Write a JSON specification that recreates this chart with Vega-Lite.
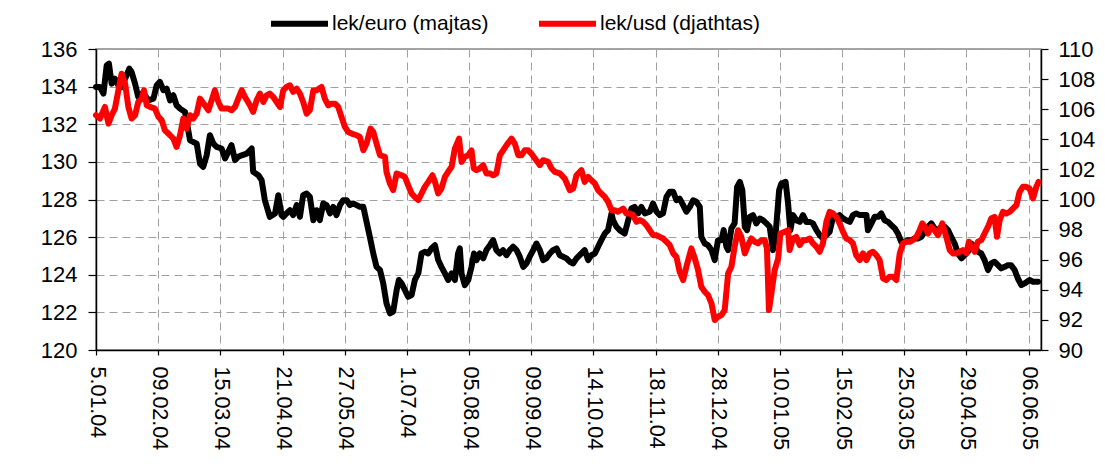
{
 "$schema": "https://vega.github.io/schema/vega-lite/v6.json",
 "width": 945,
 "height": 301,
 "autosize": {"type": "none"},
 "padding": {"left": 96, "top": 49, "right": 64, "bottom": 122},
 "background": "white",
 "config": {
  "font": "Liberation Sans",
  "view": {"stroke": "#888888", "strokeWidth": 1.5},
  "axis": {"labelColor": "#000000", "domainColor": "#000000", "domainWidth": 1.5, "tickColor": "#000000", "tickWidth": 1.2, "gridColor": "#a0a0a0", "gridDash": [8, 5], "gridWidth": 1, "labelOverlap": false, "labelFlush": false, "labelBound": false, "title": null}
 },
 "data": {"values": [
{"s":"e","t":0,"v":133.98},{"s":"e","t":1.6,"v":133.98},{"s":"e","t":3.0,"v":133.63},{"s":"e","t":4.3,"v":135.13},{"s":"e","t":5.2,"v":135.22},{"s":"e","t":6.3,"v":134.16},{"s":"e","t":7.6,"v":134.42},{"s":"e","t":9.0,"v":134.07},{"s":"e","t":10.3,"v":133.98},{"s":"e","t":11.7,"v":134.42},{"s":"e","t":13.4,"v":134.96},{"s":"e","t":14.3,"v":134.78},{"s":"e","t":15.7,"v":134.16},{"s":"e","t":17.0,"v":133.45},{"s":"e","t":18.4,"v":133.63},{"s":"e","t":19.7,"v":133.54},{"s":"e","t":21.0,"v":133.27},{"s":"e","t":23.1,"v":133.36},{"s":"e","t":24.4,"v":134.07},{"s":"e","t":25.7,"v":134.25},{"s":"e","t":27.1,"v":133.81},{"s":"e","t":28.4,"v":133.89},{"s":"e","t":29.8,"v":133.27},{"s":"e","t":31.1,"v":133.54},{"s":"e","t":32.4,"v":133.01},{"s":"e","t":33.8,"v":132.83},{"s":"e","t":35.8,"v":132.65},{"s":"e","t":37.8,"v":131.15},{"s":"e","t":39.1,"v":131.06},{"s":"e","t":40.5,"v":130.97},{"s":"e","t":41.8,"v":129.91},{"s":"e","t":43.1,"v":129.73},{"s":"e","t":44.5,"v":130.35},{"s":"e","t":45.8,"v":131.42},{"s":"e","t":47.2,"v":130.97},{"s":"e","t":48.5,"v":130.80},{"s":"e","t":50.5,"v":130.71},{"s":"e","t":51.9,"v":130.18},{"s":"e","t":53.2,"v":130.53},{"s":"e","t":54.5,"v":130.89},{"s":"e","t":55.9,"v":130.09},{"s":"e","t":57.2,"v":130.27},{"s":"e","t":58.6,"v":130.35},{"s":"e","t":60.6,"v":130.44},{"s":"e","t":62.6,"v":130.71},{"s":"e","t":63.2,"v":129.47},{"s":"e","t":65.3,"v":129.29},{"s":"e","t":66.6,"v":129.03},{"s":"e","t":67.9,"v":127.96},{"s":"e","t":69.9,"v":127.08},{"s":"e","t":72.0,"v":127.26},{"s":"e","t":73.3,"v":128.23},{"s":"e","t":74.6,"v":127.17},{"s":"e","t":75.3,"v":127.08},{"s":"e","t":76.6,"v":127.26},{"s":"e","t":78.0,"v":127.43},{"s":"e","t":79.3,"v":127.17},{"s":"e","t":80.7,"v":127.70},{"s":"e","t":82.0,"v":127.08},{"s":"e","t":83.3,"v":128.23},{"s":"e","t":84.7,"v":128.32},{"s":"e","t":86.0,"v":128.14},{"s":"e","t":87.4,"v":126.90},{"s":"e","t":88.7,"v":127.43},{"s":"e","t":90.0,"v":126.90},{"s":"e","t":91.4,"v":127.79},{"s":"e","t":92.7,"v":127.70},{"s":"e","t":94.1,"v":127.26},{"s":"e","t":95.4,"v":127.61},{"s":"e","t":96.7,"v":127.17},{"s":"e","t":98.1,"v":127.70},{"s":"e","t":99.4,"v":127.96},{"s":"e","t":100.8,"v":127.96},{"s":"e","t":102.1,"v":127.70},{"s":"e","t":103.4,"v":127.79},{"s":"e","t":104.8,"v":127.70},{"s":"e","t":106.1,"v":127.61},{"s":"e","t":107.5,"v":127.61},{"s":"e","t":108.8,"v":126.81},{"s":"e","t":110.1,"v":126.02},{"s":"e","t":111.5,"v":125.13},{"s":"e","t":112.8,"v":124.42},{"s":"e","t":114.2,"v":124.25},{"s":"e","t":115.5,"v":123.54},{"s":"e","t":116.8,"v":122.48},{"s":"e","t":118.2,"v":121.95},{"s":"e","t":119.5,"v":122.04},{"s":"e","t":120.9,"v":123.19},{"s":"e","t":121.8,"v":123.72},{"s":"e","t":122.9,"v":123.54},{"s":"e","t":124.2,"v":123.19},{"s":"e","t":125.5,"v":122.83},{"s":"e","t":126.9,"v":122.92},{"s":"e","t":128.2,"v":123.72},{"s":"e","t":129.6,"v":124.07},{"s":"e","t":130.9,"v":125.13},{"s":"e","t":132.2,"v":125.22},{"s":"e","t":133.6,"v":125.13},{"s":"e","t":134.9,"v":125.40},{"s":"e","t":136.3,"v":125.57},{"s":"e","t":137.6,"v":124.78},{"s":"e","t":138.9,"v":124.42},{"s":"e","t":140.3,"v":124.07},{"s":"e","t":141.6,"v":123.72},{"s":"e","t":143.0,"v":124.07},{"s":"e","t":144.3,"v":123.72},{"s":"e","t":145.6,"v":125.13},{"s":"e","t":146.3,"v":125.40},{"s":"e","t":147.0,"v":124.07},{"s":"e","t":148.3,"v":123.45},{"s":"e","t":149.7,"v":123.72},{"s":"e","t":151.0,"v":124.42},{"s":"e","t":152.0,"v":125.13},{"s":"e","t":153.0,"v":124.78},{"s":"e","t":154.3,"v":125.13},{"s":"e","t":155.7,"v":124.87},{"s":"e","t":157.0,"v":125.31},{"s":"e","t":158.4,"v":125.57},{"s":"e","t":159.7,"v":125.84},{"s":"e","t":161.0,"v":125.31},{"s":"e","t":162.4,"v":125.13},{"s":"e","t":163.7,"v":125.31},{"s":"e","t":165.1,"v":125.04},{"s":"e","t":166.4,"v":125.31},{"s":"e","t":167.7,"v":125.49},{"s":"e","t":169.1,"v":125.31},{"s":"e","t":170.4,"v":124.96},{"s":"e","t":171.8,"v":124.42},{"s":"e","t":173.1,"v":124.60},{"s":"e","t":174.4,"v":124.96},{"s":"e","t":175.8,"v":125.31},{"s":"e","t":177.1,"v":125.66},{"s":"e","t":178.5,"v":125.31},{"s":"e","t":179.8,"v":124.78},{"s":"e","t":181.1,"v":124.87},{"s":"e","t":182.5,"v":125.13},{"s":"e","t":183.8,"v":125.31},{"s":"e","t":185.2,"v":125.40},{"s":"e","t":186.5,"v":125.04},{"s":"e","t":187.8,"v":124.96},{"s":"e","t":189.2,"v":124.87},{"s":"e","t":190.5,"v":124.69},{"s":"e","t":191.9,"v":124.60},{"s":"e","t":193.2,"v":124.87},{"s":"e","t":194.5,"v":125.04},{"s":"e","t":196.5,"v":125.31},{"s":"e","t":197.9,"v":124.78},{"s":"e","t":199.2,"v":125.04},{"s":"e","t":200.6,"v":125.13},{"s":"e","t":201.9,"v":125.49},{"s":"e","t":203.2,"v":125.84},{"s":"e","t":204.6,"v":126.19},{"s":"e","t":205.9,"v":126.37},{"s":"e","t":207.3,"v":127.26},{"s":"e","t":207.9,"v":126.90},{"s":"e","t":209.3,"v":126.55},{"s":"e","t":210.6,"v":126.37},{"s":"e","t":212.6,"v":126.19},{"s":"e","t":214.0,"v":126.90},{"s":"e","t":215.3,"v":127.52},{"s":"e","t":216.6,"v":127.61},{"s":"e","t":218.0,"v":127.26},{"s":"e","t":219.3,"v":127.61},{"s":"e","t":220.7,"v":127.26},{"s":"e","t":222.7,"v":127.35},{"s":"e","t":224.0,"v":127.79},{"s":"e","t":225.4,"v":127.35},{"s":"e","t":226.7,"v":127.17},{"s":"e","t":228.0,"v":127.26},{"s":"e","t":229.4,"v":128.14},{"s":"e","t":230.7,"v":128.41},{"s":"e","t":232.1,"v":128.41},{"s":"e","t":233.4,"v":127.96},{"s":"e","t":234.7,"v":128.05},{"s":"e","t":236.1,"v":127.70},{"s":"e","t":237.4,"v":127.35},{"s":"e","t":238.8,"v":127.61},{"s":"e","t":240.1,"v":127.96},{"s":"e","t":241.4,"v":127.88},{"s":"e","t":242.8,"v":127.61},{"s":"e","t":243.4,"v":126.02},{"s":"e","t":244.8,"v":125.66},{"s":"e","t":246.1,"v":125.57},{"s":"e","t":247.5,"v":125.31},{"s":"e","t":248.8,"v":124.78},{"s":"e","t":250.1,"v":125.84},{"s":"e","t":251.5,"v":125.84},{"s":"e","t":252.4,"v":126.37},{"s":"e","t":253.5,"v":125.49},{"s":"e","t":254.2,"v":125.31},{"s":"e","t":255.5,"v":126.46},{"s":"e","t":256.8,"v":126.73},{"s":"e","t":257.8,"v":128.67},{"s":"e","t":258.9,"v":128.94},{"s":"e","t":259.9,"v":128.50},{"s":"e","t":260.9,"v":126.55},{"s":"e","t":261.8,"v":126.37},{"s":"e","t":262.9,"v":127.08},{"s":"e","t":264.2,"v":127.17},{"s":"e","t":265.5,"v":126.73},{"s":"e","t":266.9,"v":126.99},{"s":"e","t":268.2,"v":126.90},{"s":"e","t":269.6,"v":126.73},{"s":"e","t":270.9,"v":126.55},{"s":"e","t":272.2,"v":125.31},{"s":"e","t":273.3,"v":126.19},{"s":"e","t":274.7,"v":128.50},{"s":"e","t":275.6,"v":128.85},{"s":"e","t":277.3,"v":128.94},{"s":"e","t":278.3,"v":127.79},{"s":"e","t":279.2,"v":126.37},{"s":"e","t":280.3,"v":127.17},{"s":"e","t":281.6,"v":126.90},{"s":"e","t":283.0,"v":126.81},{"s":"e","t":284.3,"v":127.17},{"s":"e","t":285.6,"v":126.81},{"s":"e","t":287.0,"v":126.81},{"s":"e","t":288.3,"v":126.73},{"s":"e","t":289.7,"v":126.37},{"s":"e","t":291.0,"v":126.11},{"s":"e","t":292.3,"v":125.93},{"s":"e","t":293.7,"v":126.11},{"s":"e","t":295.0,"v":126.28},{"s":"e","t":296.4,"v":127.08},{"s":"e","t":297.7,"v":127.08},{"s":"e","t":299.0,"v":127.17},{"s":"e","t":300.4,"v":126.99},{"s":"e","t":301.7,"v":126.90},{"s":"e","t":303.1,"v":126.81},{"s":"e","t":304.4,"v":127.17},{"s":"e","t":305.7,"v":127.26},{"s":"e","t":307.1,"v":127.17},{"s":"e","t":308.4,"v":127.17},{"s":"e","t":309.8,"v":127.17},{"s":"e","t":310.4,"v":126.37},{"s":"e","t":311.8,"v":126.73},{"s":"e","t":313.1,"v":127.08},{"s":"e","t":314.5,"v":127.08},{"s":"e","t":315.8,"v":127.26},{"s":"e","t":317.1,"v":126.90},{"s":"e","t":318.5,"v":126.81},{"s":"e","t":319.8,"v":126.64},{"s":"e","t":321.2,"v":126.46},{"s":"e","t":322.5,"v":126.19},{"s":"e","t":323.8,"v":125.75},{"s":"e","t":325.2,"v":125.75},{"s":"e","t":326.5,"v":125.84},{"s":"e","t":327.9,"v":125.84},{"s":"e","t":329.2,"v":125.93},{"s":"e","t":330.5,"v":125.93},{"s":"e","t":331.9,"v":126.02},{"s":"e","t":333.2,"v":126.28},{"s":"e","t":334.6,"v":126.55},{"s":"e","t":335.9,"v":126.73},{"s":"e","t":337.2,"v":126.46},{"s":"e","t":338.6,"v":126.37},{"s":"e","t":339.9,"v":126.55},{"s":"e","t":341.3,"v":126.55},{"s":"e","t":342.6,"v":126.37},{"s":"e","t":343.9,"v":126.02},{"s":"e","t":345.3,"v":125.66},{"s":"e","t":346.6,"v":125.13},{"s":"e","t":348.0,"v":124.87},{"s":"e","t":349.3,"v":125.04},{"s":"e","t":350.6,"v":125.22},{"s":"e","t":352.0,"v":125.66},{"s":"e","t":353.3,"v":125.49},{"s":"e","t":354.7,"v":125.22},{"s":"e","t":356.0,"v":125.13},{"s":"e","t":357.3,"v":124.78},{"s":"e","t":358.7,"v":124.25},{"s":"e","t":360.0,"v":124.60},{"s":"e","t":361.3,"v":124.69},{"s":"e","t":362.7,"v":124.51},{"s":"e","t":364.0,"v":124.34},{"s":"e","t":365.4,"v":124.42},{"s":"e","t":366.7,"v":124.51},{"s":"e","t":368.0,"v":124.51},{"s":"e","t":369.4,"v":124.25},{"s":"e","t":370.7,"v":123.80},{"s":"e","t":372.1,"v":123.45},{"s":"e","t":373.4,"v":123.54},{"s":"e","t":375.4,"v":123.72},{"s":"e","t":376.8,"v":123.63},{"s":"e","t":378.8,"v":123.63},
{"s":"u","t":0,"v":105.60},{"s":"u","t":1.6,"v":105.38},{"s":"u","t":3.6,"v":106.15},{"s":"u","t":5.0,"v":105.04},{"s":"u","t":6.3,"v":105.60},{"s":"u","t":7.6,"v":106.04},{"s":"u","t":9.0,"v":107.26},{"s":"u","t":10.3,"v":108.36},{"s":"u","t":11.7,"v":107.70},{"s":"u","t":13.0,"v":106.15},{"s":"u","t":14.3,"v":105.38},{"s":"u","t":15.7,"v":105.60},{"s":"u","t":17.0,"v":106.48},{"s":"u","t":18.4,"v":106.70},{"s":"u","t":19.3,"v":107.26},{"s":"u","t":20.4,"v":106.26},{"s":"u","t":21.7,"v":106.15},{"s":"u","t":23.7,"v":106.04},{"s":"u","t":25.1,"v":105.49},{"s":"u","t":26.4,"v":105.27},{"s":"u","t":27.7,"v":104.60},{"s":"u","t":29.8,"v":104.27},{"s":"u","t":31.1,"v":104.05},{"s":"u","t":32.4,"v":103.50},{"s":"u","t":33.8,"v":104.27},{"s":"u","t":35.1,"v":105.38},{"s":"u","t":36.4,"v":104.71},{"s":"u","t":37.8,"v":105.60},{"s":"u","t":39.1,"v":105.38},{"s":"u","t":40.5,"v":105.71},{"s":"u","t":41.8,"v":106.70},{"s":"u","t":43.8,"v":106.26},{"s":"u","t":45.2,"v":105.93},{"s":"u","t":46.5,"v":106.59},{"s":"u","t":47.8,"v":107.26},{"s":"u","t":49.2,"v":106.48},{"s":"u","t":50.5,"v":106.04},{"s":"u","t":51.9,"v":106.04},{"s":"u","t":53.2,"v":106.04},{"s":"u","t":54.5,"v":105.93},{"s":"u","t":55.9,"v":106.15},{"s":"u","t":57.2,"v":106.70},{"s":"u","t":58.6,"v":107.26},{"s":"u","t":59.9,"v":106.81},{"s":"u","t":61.9,"v":106.26},{"s":"u","t":63.2,"v":105.82},{"s":"u","t":64.6,"v":106.59},{"s":"u","t":65.9,"v":107.04},{"s":"u","t":67.3,"v":106.48},{"s":"u","t":68.6,"v":106.92},{"s":"u","t":69.9,"v":107.04},{"s":"u","t":71.3,"v":106.81},{"s":"u","t":72.6,"v":106.48},{"s":"u","t":74.0,"v":106.15},{"s":"u","t":75.3,"v":107.26},{"s":"u","t":76.6,"v":107.48},{"s":"u","t":78.0,"v":107.59},{"s":"u","t":79.3,"v":107.15},{"s":"u","t":80.7,"v":107.37},{"s":"u","t":82.0,"v":107.04},{"s":"u","t":83.3,"v":106.48},{"s":"u","t":84.7,"v":105.71},{"s":"u","t":86.0,"v":105.93},{"s":"u","t":87.4,"v":107.26},{"s":"u","t":88.7,"v":107.26},{"s":"u","t":90.7,"v":107.48},{"s":"u","t":92.0,"v":106.70},{"s":"u","t":93.4,"v":106.26},{"s":"u","t":94.7,"v":106.37},{"s":"u","t":96.1,"v":106.37},{"s":"u","t":97.4,"v":106.15},{"s":"u","t":98.7,"v":105.49},{"s":"u","t":100.1,"v":104.82},{"s":"u","t":101.4,"v":104.49},{"s":"u","t":102.8,"v":104.38},{"s":"u","t":104.8,"v":104.27},{"s":"u","t":106.1,"v":104.16},{"s":"u","t":107.5,"v":103.27},{"s":"u","t":108.8,"v":103.72},{"s":"u","t":110.4,"v":104.71},{"s":"u","t":111.5,"v":104.49},{"s":"u","t":112.8,"v":103.72},{"s":"u","t":114.2,"v":102.94},{"s":"u","t":116.2,"v":102.83},{"s":"u","t":116.8,"v":101.84},{"s":"u","t":118.2,"v":101.06},{"s":"u","t":119.5,"v":100.62},{"s":"u","t":120.9,"v":101.73},{"s":"u","t":122.9,"v":101.61},{"s":"u","t":124.2,"v":101.50},{"s":"u","t":125.5,"v":100.95},{"s":"u","t":126.9,"v":100.40},{"s":"u","t":128.2,"v":100.17},{"s":"u","t":129.6,"v":99.96},{"s":"u","t":130.9,"v":100.40},{"s":"u","t":132.2,"v":100.84},{"s":"u","t":133.6,"v":101.17},{"s":"u","t":135.3,"v":101.61},{"s":"u","t":136.3,"v":101.17},{"s":"u","t":137.6,"v":100.40},{"s":"u","t":138.9,"v":100.73},{"s":"u","t":140.3,"v":101.50},{"s":"u","t":141.6,"v":101.84},{"s":"u","t":143.0,"v":102.17},{"s":"u","t":144.3,"v":103.38},{"s":"u","t":146.0,"v":104.05},{"s":"u","t":147.0,"v":102.50},{"s":"u","t":148.3,"v":102.83},{"s":"u","t":149.7,"v":102.94},{"s":"u","t":151.0,"v":103.27},{"s":"u","t":151.9,"v":102.06},{"s":"u","t":153.0,"v":101.95},{"s":"u","t":154.3,"v":102.06},{"s":"u","t":155.7,"v":102.28},{"s":"u","t":157.0,"v":101.73},{"s":"u","t":158.4,"v":101.73},{"s":"u","t":159.7,"v":101.61},{"s":"u","t":161.0,"v":101.73},{"s":"u","t":162.4,"v":102.94},{"s":"u","t":163.7,"v":103.27},{"s":"u","t":165.1,"v":103.61},{"s":"u","t":167.1,"v":104.05},{"s":"u","t":168.4,"v":103.72},{"s":"u","t":169.8,"v":102.94},{"s":"u","t":171.1,"v":102.94},{"s":"u","t":172.4,"v":103.27},{"s":"u","t":173.8,"v":103.27},{"s":"u","t":175.1,"v":103.05},{"s":"u","t":176.5,"v":102.72},{"s":"u","t":178.5,"v":102.28},{"s":"u","t":179.8,"v":102.61},{"s":"u","t":181.8,"v":102.50},{"s":"u","t":183.2,"v":102.06},{"s":"u","t":184.5,"v":101.84},{"s":"u","t":186.5,"v":101.73},{"s":"u","t":188.5,"v":101.39},{"s":"u","t":190.5,"v":100.62},{"s":"u","t":191.9,"v":100.73},{"s":"u","t":193.2,"v":101.61},{"s":"u","t":195.2,"v":101.95},{"s":"u","t":196.5,"v":101.17},{"s":"u","t":197.9,"v":101.50},{"s":"u","t":199.2,"v":101.28},{"s":"u","t":200.6,"v":101.06},{"s":"u","t":201.9,"v":100.62},{"s":"u","t":203.2,"v":100.40},{"s":"u","t":204.6,"v":100.17},{"s":"u","t":205.9,"v":99.85},{"s":"u","t":207.3,"v":99.29},{"s":"u","t":208.6,"v":99.29},{"s":"u","t":209.9,"v":99.18},{"s":"u","t":212.0,"v":99.40},{"s":"u","t":213.3,"v":99.07},{"s":"u","t":214.6,"v":99.07},{"s":"u","t":216.0,"v":98.96},{"s":"u","t":217.3,"v":98.52},{"s":"u","t":218.7,"v":98.63},{"s":"u","t":220.0,"v":98.52},{"s":"u","t":221.3,"v":98.30},{"s":"u","t":222.7,"v":97.96},{"s":"u","t":224.0,"v":97.63},{"s":"u","t":225.4,"v":97.63},{"s":"u","t":226.7,"v":97.52},{"s":"u","t":228.0,"v":97.41},{"s":"u","t":229.4,"v":97.19},{"s":"u","t":230.7,"v":96.97},{"s":"u","t":232.1,"v":96.42},{"s":"u","t":233.4,"v":96.19},{"s":"u","t":234.7,"v":95.20},{"s":"u","t":236.1,"v":94.65},{"s":"u","t":237.4,"v":95.53},{"s":"u","t":239.4,"v":96.75},{"s":"u","t":240.8,"v":96.08},{"s":"u","t":242.1,"v":95.31},{"s":"u","t":243.4,"v":94.20},{"s":"u","t":244.8,"v":93.87},{"s":"u","t":246.1,"v":93.65},{"s":"u","t":247.5,"v":93.10},{"s":"u","t":248.8,"v":91.99},{"s":"u","t":250.1,"v":92.21},{"s":"u","t":251.5,"v":92.32},{"s":"u","t":252.8,"v":92.65},{"s":"u","t":254.2,"v":95.09},{"s":"u","t":255.5,"v":95.53},{"s":"u","t":256.8,"v":96.86},{"s":"u","t":258.2,"v":97.96},{"s":"u","t":259.5,"v":97.52},{"s":"u","t":260.9,"v":96.42},{"s":"u","t":262.2,"v":96.97},{"s":"u","t":263.5,"v":97.41},{"s":"u","t":264.9,"v":97.19},{"s":"u","t":266.2,"v":97.08},{"s":"u","t":267.6,"v":97.30},{"s":"u","t":268.9,"v":97.30},{"s":"u","t":269.8,"v":96.75},{"s":"u","t":270.6,"v":92.65},{"s":"u","t":271.6,"v":93.76},{"s":"u","t":272.9,"v":95.31},{"s":"u","t":274.3,"v":96.08},{"s":"u","t":275.2,"v":97.74},{"s":"u","t":276.9,"v":97.85},{"s":"u","t":278.3,"v":97.96},{"s":"u","t":278.9,"v":96.64},{"s":"u","t":280.3,"v":97.41},{"s":"u","t":281.6,"v":97.52},{"s":"u","t":283.0,"v":96.97},{"s":"u","t":284.3,"v":97.30},{"s":"u","t":285.6,"v":97.30},{"s":"u","t":287.0,"v":97.41},{"s":"u","t":288.3,"v":97.08},{"s":"u","t":289.7,"v":96.86},{"s":"u","t":291.0,"v":96.53},{"s":"u","t":292.3,"v":97.08},{"s":"u","t":293.7,"v":98.52},{"s":"u","t":295.0,"v":99.18},{"s":"u","t":296.4,"v":99.07},{"s":"u","t":297.7,"v":98.85},{"s":"u","t":299.0,"v":98.41},{"s":"u","t":300.4,"v":97.85},{"s":"u","t":301.7,"v":97.41},{"s":"u","t":303.1,"v":97.30},{"s":"u","t":304.4,"v":97.08},{"s":"u","t":305.7,"v":96.30},{"s":"u","t":307.1,"v":95.97},{"s":"u","t":308.4,"v":96.42},{"s":"u","t":309.8,"v":95.97},{"s":"u","t":311.1,"v":96.42},{"s":"u","t":312.4,"v":96.53},{"s":"u","t":313.8,"v":96.30},{"s":"u","t":315.1,"v":95.97},{"s":"u","t":316.5,"v":94.76},{"s":"u","t":317.8,"v":94.65},{"s":"u","t":319.1,"v":94.87},{"s":"u","t":320.5,"v":94.87},{"s":"u","t":321.8,"v":94.65},{"s":"u","t":323.2,"v":96.42},{"s":"u","t":324.5,"v":97.08},{"s":"u","t":325.8,"v":97.19},{"s":"u","t":327.2,"v":97.19},{"s":"u","t":328.5,"v":97.30},{"s":"u","t":329.9,"v":97.52},{"s":"u","t":331.2,"v":97.96},{"s":"u","t":332.3,"v":98.41},{"s":"u","t":333.2,"v":98.19},{"s":"u","t":334.6,"v":97.74},{"s":"u","t":335.9,"v":98.19},{"s":"u","t":337.2,"v":97.96},{"s":"u","t":338.6,"v":97.63},{"s":"u","t":340.3,"v":98.41},{"s":"u","t":341.9,"v":97.52},{"s":"u","t":343.3,"v":96.64},{"s":"u","t":344.6,"v":96.42},{"s":"u","t":345.9,"v":96.42},{"s":"u","t":347.3,"v":96.53},{"s":"u","t":348.6,"v":96.64},{"s":"u","t":350.0,"v":96.42},{"s":"u","t":351.0,"v":97.19},{"s":"u","t":352.0,"v":96.86},{"s":"u","t":353.3,"v":96.53},{"s":"u","t":354.6,"v":97.19},{"s":"u","t":356.0,"v":97.30},{"s":"u","t":357.3,"v":97.74},{"s":"u","t":358.7,"v":98.19},{"s":"u","t":360.0,"v":98.74},{"s":"u","t":361.3,"v":98.85},{"s":"u","t":362.3,"v":97.52},{"s":"u","t":363.4,"v":98.63},{"s":"u","t":364.7,"v":99.18},{"s":"u","t":366.0,"v":99.07},{"s":"u","t":367.4,"v":99.18},{"s":"u","t":368.7,"v":99.40},{"s":"u","t":370.1,"v":99.62},{"s":"u","t":371.4,"v":100.51},{"s":"u","t":372.7,"v":100.84},{"s":"u","t":374.1,"v":100.84},{"s":"u","t":375.4,"v":100.73},{"s":"u","t":376.8,"v":100.07},{"s":"u","t":378.1,"v":100.84},{"s":"u","t":379.0,"v":101.17}
 ]},
 "encoding": {
  "x": {"field": "t", "type": "quantitative",
   "scale": {"domain": [0, 380], "nice": false, "zero": false},
   "axis": {"values": [0,25,50,75,100,125,150,175,200,225,250,275,300,325,350,375],
    "labelExpr": "['5.01.04','09.02.04','15.03.04','21.04.04','27.05.04','1.07.04','05.08.04','09.09.04','14.10.04','18.11.04','28.12.04','10.01.05','15.02.05','25.03.05','29.04.05','06.06.05'][round(datum.value/25)]",
    "labelAngle": 90, "labelFontSize": 21.5, "tickSize": 5, "labelPadding": 11, "grid": true}},
  "color": {"field": "s", "type": "nominal",
   "scale": {"domain": ["e", "u"], "range": ["#000000", "#ff0000"]},
   "legend": {"orient": "none", "legendX": 172, "legendY": -57, "direction": "horizontal", "title": null,
    "symbolType": "stroke", "symbolSize": 3249, "symbolStrokeWidth": 6, "labelFontSize": 21, "labelOffset": 1,
    "columnPadding": 38, "padding": 0, "labelColor": "#000000",
    "labelExpr": "datum.label == 'e' ? 'lek/euro (majtas)' : 'lek/usd (djathtas)'"}}
 },
 "layer": [
  {"transform": [{"filter": "datum.s == 'e'"}],
   "mark": {"type": "line", "strokeWidth": 6, "strokeJoin": "round", "strokeCap": "round"},
   "encoding": {"y": {"field": "v", "type": "quantitative",
    "scale": {"domain": [120, 136], "nice": false, "zero": false},
    "axis": {"orient": "left", "values": [120,122,124,126,128,130,132,134,136], "labelFontSize": 22, "tickSize": 8, "labelPadding": 11, "grid": true}}}},
  {"transform": [{"filter": "datum.s == 'u'"}],
   "mark": {"type": "line", "strokeWidth": 6, "strokeJoin": "round", "strokeCap": "round"},
   "encoding": {"y": {"field": "v", "type": "quantitative",
    "scale": {"domain": [90, 110], "nice": false, "zero": false},
    "axis": {"orient": "right", "values": [90,92,94,96,98,100,102,104,106,108,110], "labelFontSize": 22, "tickSize": 7, "labelPadding": 10, "grid": false}}}}
 ],
 "resolve": {"scale": {"y": "independent"}}
}
